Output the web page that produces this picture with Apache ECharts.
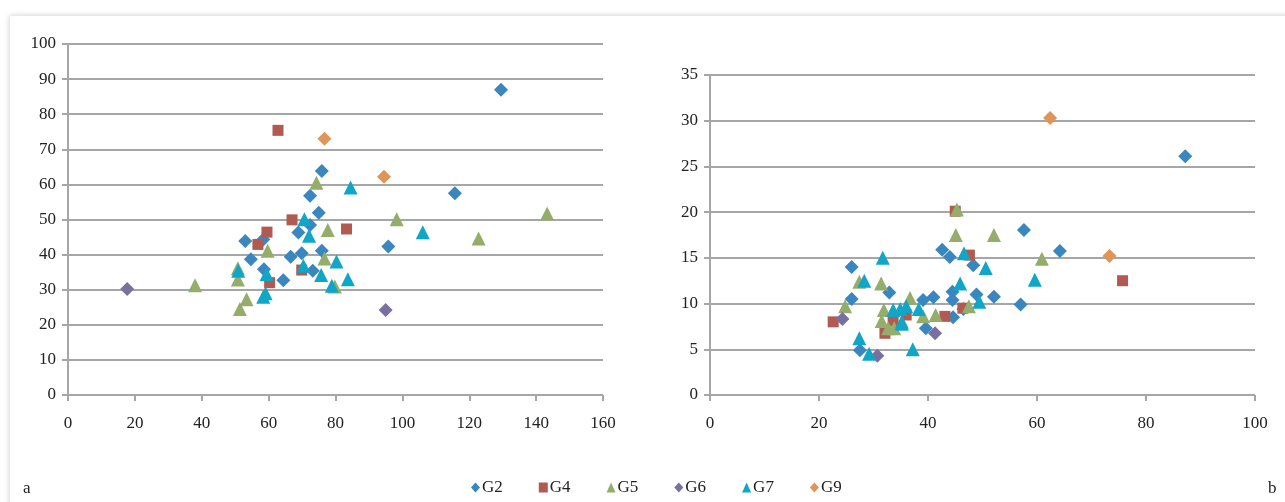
<!DOCTYPE html>
<html>
<head>
<meta charset="utf-8">
<script src="https://cdn.jsdelivr.net/npm/echarts@6/dist/echarts.min.js"></script>
<style>
  html, body { margin: 0; padding: 0; background: #fff; }
  #frame {
    position: absolute; left: 10px; top: 16px; width: 1290px; height: 500px;
    box-shadow: 0 0 6px rgba(0, 0, 0, 0.22); background: #fff;
  }
  #main { position: absolute; left: 0; top: 0; width: 1285px; height: 502px; }
</style>
</head>
<body>
<div id="frame"></div>
<div id="main"></div>
<script>
// 组名与颜色
const groups = ['G2', 'G4', 'G5', 'G6', 'G7', 'G9'];
const colors = ['#3a86bf', '#b05a52', '#94ad6b', '#7a70a0', '#10a6c8', '#df9558'];
const shapes = ['diamond', 'rect', 'triangle', 'diamond', 'triangle', 'diamond'];
const sizes = [14, 11, 14, 14, 14, 14];

// 图 a
const aG2 = [[129.5, 87], [115.7, 57.5], [95.8, 42.3], [75.9, 63.8], [72.4, 56.8], [75, 51.9],
  [53, 43.9], [54.7, 38.7], [58.4, 44.3], [58.6, 35.8], [64.4, 32.7], [66.6, 39.4],
  [68.9, 46.3], [69.9, 40.4], [72.4, 48.4], [73.2, 35.4], [75.9, 41.1]];
const aG4 = [[62.8, 75.4], [67, 49.9], [59.5, 46.4], [56.8, 42.9], [83.3, 47.3], [60.3, 32], [69.9, 35.6]];
const aG5 = [[74.3, 60.5], [98.3, 50.1], [77.7, 47], [59.7, 41.1], [122.8, 44.6], [143.3, 51.7],
  [38, 31.3], [50.8, 36.1], [50.8, 32.9], [51.4, 24.5], [53.4, 27.3], [76.7, 38.9], [79.8, 30.9]];
const aG6 = [[17.7, 30.2], [95, 24.2]];
const aG7 = [[84.5, 59.1], [70.7, 50.1], [72.1, 45.4], [106.1, 46.4], [50.9, 35.4], [59.1, 29],
  [58.4, 28], [59.4, 34.5], [70.4, 36.8], [75.7, 34.2], [78.9, 31.1], [80.3, 38], [83.7, 33]];
const aG9 = [[76.7, 73], [94.5, 62.2]];

// 图 b
const bG2 = [[87.2, 26.1], [57.6, 18.05], [64.2, 15.75], [57, 9.9], [42.6, 15.9], [44, 15.1],
  [48.3, 14.2], [44.5, 11.3], [48.9, 11], [52.1, 10.75], [41, 10.7], [39.1, 10.4], [44.5, 10.4],
  [44.6, 8.5], [39.6, 7.3], [26, 14], [26, 10.5], [32.9, 11.2], [27.5, 4.9], [46.5, 9.4]];
const bG4 = [[75.7, 12.5], [47.6, 15.3], [43.1, 8.6], [46.4, 9.5], [22.6, 8], [32.1, 6.75],
  [33.6, 8.1], [36, 8.75], [45, 20.1]];
const bG5 = [[60.9, 14.9], [45.1, 17.5], [52.1, 17.5], [47.5, 9.7], [41.4, 8.75], [39.1, 8.6],
  [45.3, 20.3], [24.8, 9.7], [27.4, 12.4], [31.4, 12.2], [31.9, 9.3], [31.5, 8.1], [32.7, 7.3],
  [33.8, 7.3], [36.7, 10.6]];
const bG6 = [[24.3, 8.3], [30.7, 4.3], [41.3, 6.75]];
const bG7 = [[59.6, 12.6], [46.6, 15.5], [50.6, 13.9], [45.9, 12.2], [49.4, 10.2], [31.7, 15],
  [28.3, 12.5], [27.4, 6.2], [29.2, 4.5], [37.2, 5], [33.6, 9.3], [34.9, 9.4], [36, 9.7],
  [35.2, 7.8], [38.3, 9.4], [35.2, 8.0]];
const bG9 = [[62.4, 30.3], [73.3, 15.2]];

const aData = [aG2, aG4, aG5, aG6, aG7, aG9];
const bData = [bG2, bG4, bG5, bG6, bG7, bG9];

const font = 'Liberation Serif';
const gridColor = '#a4a6aa';

function valueAxis(gridIndex, min, max, interval, isY) {
  return {
    type: 'value',
    gridIndex: gridIndex,
    min: min,
    max: max,
    interval: interval,
    axisLine: { show: isY, onZero: false, lineStyle: { color: gridColor, width: 2 } },
    axisTick: { show: true, length: 6, lineStyle: { color: gridColor, width: 2 } },
    axisLabel: { color: '#222', fontFamily: font, fontSize: 17, margin: isY ? 12 : 20 },
    splitLine: { show: isY, lineStyle: { color: gridColor, width: 2 } }
  };
}

const series = [];
[aData, bData].forEach(function (set, gi) {
  set.forEach(function (data, i) {
    series.push({
      name: groups[i],
      type: 'scatter',
      xAxisIndex: gi,
      yAxisIndex: gi,
      symbol: shapes[i],
      symbolSize: sizes[i],
      itemStyle: { color: colors[i], opacity: 1 },
      data: data
    });
  });
});

const chart = echarts.init(document.getElementById('main'));
chart.setOption({
  animation: false,
  color: colors,
  grid: [
    { left: 68, top: 44, width: 535, height: 351 },
    { left: 710, top: 75, width: 545, height: 320 }
  ],
  xAxis: [valueAxis(0, 0, 160, 20, false), valueAxis(1, 0, 100, 20, false)],
  yAxis: [valueAxis(0, 0, 100, 10, true), valueAxis(1, 0, 35, 5, true)],
  legend: {
    data: groups.map(function (g, i) { return { name: g, icon: shapes[i] }; }),
    left: 466,
    top: 474,
    itemWidth: 9,
    itemHeight: 10,
    itemGap: 36,
    textStyle: { fontFamily: font, fontSize: 17, color: '#222', padding: [0, 0, 0, -3] }
  },
  graphic: [
    { type: 'text', left: 23, top: 480, style: { text: 'a', font: '17px "Liberation Serif"', fill: '#222' } },
    { type: 'text', left: 1268, top: 480, style: { text: 'b', font: '17px "Liberation Serif"', fill: '#222' } }
  ],
  series: series
});
</script>
</body>
</html>
